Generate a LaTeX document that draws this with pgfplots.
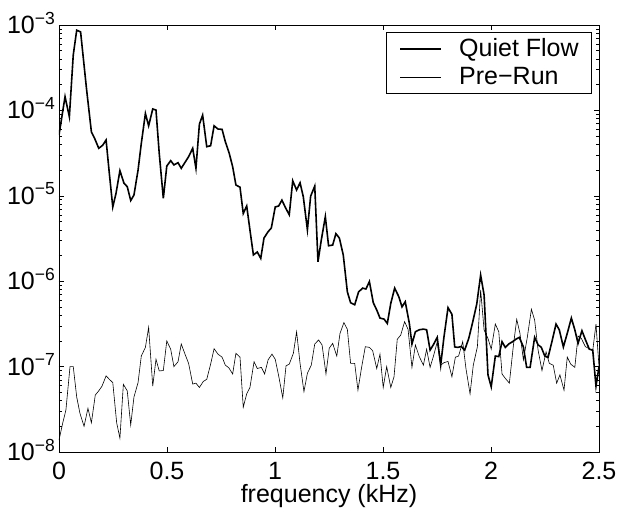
\documentclass[border=0pt]{standalone}
\usepackage{fontspec}
\setmainfont{Liberation Sans}
\usepackage{pgfplots}
\pgfplotsset{compat=1.18}
\begin{document}
\begin{tikzpicture}
\begin{axis}[
  scale only axis,
  width=540pt, height=427pt,
  xmin=0, xmax=2.5,
  ymode=log, ymin=1e-8, ymax=1e-3,
  xtick={0,0.5,1,1.5,2,2.5},
  xticklabels={0,0.5,1,1.5,2,2.5},
  ytick={1e-8,1e-7,1e-6,1e-5,1e-4,1e-3},
  yticklabels={10\raisebox{9.5pt}{\fontsize{17.5}{17.5}\selectfont −8},
               10\raisebox{9.5pt}{\fontsize{17.5}{17.5}\selectfont −7},
               10\raisebox{9.5pt}{\fontsize{17.5}{17.5}\selectfont −6},
               10\raisebox{9.5pt}{\fontsize{17.5}{17.5}\selectfont −5},
               10\raisebox{9.5pt}{\fontsize{17.5}{17.5}\selectfont −4},
               10\raisebox{9.5pt}{\fontsize{17.5}{17.5}\selectfont −3}},
  tick align=inside,
  major tick length=5pt, minor tick length=3pt,
  tick style={black, line width=0.5pt},
  axis line style={black, line width=0.8pt},
  xticklabel style={font=\fontsize{25}{29}\selectfont, inner sep=0pt, yshift=-10pt},
  yticklabel style={font=\fontsize{25}{29}\selectfont, anchor=base east, inner sep=0pt, xshift=-4pt, yshift=-8.5pt},
  xlabel={frequency (kHz)},
  xlabel style={font=\fontsize{25}{29}\selectfont, inner sep=0pt, yshift=-4pt},
  legend style={at={(1,1)}, anchor=north east, xshift=-7pt, yshift=-7pt,
    font=\fontsize{25}{29}\selectfont, draw=black, line width=0.6pt,
    inner xsep=13pt, inner ysep=7pt, row sep=9pt, column sep=17pt,
    nodes={inner xsep=0pt, inner ysep=0pt, text height=17pt, text depth=2pt}},
  legend cell align=left,
  legend image code/.code={\draw[#1] (0pt,0pt) -- (41pt,0pt);},
]
\addplot[black, line width=1.6pt] table {
0 5.15e-5
0.028 1.45e-4
0.048 8.4e-5
0.066 4.46e-4
0.082 8.7e-4
0.100 8.3e-4
0.128 1.73e-4
0.150 5.6e-5
0.165 4.7e-5
0.184 3.6e-5
0.202 3.9e-5
0.218 4.5e-5
0.233 1.83e-5
0.249 7.4e-6
0.264 1.07e-5
0.282 1.97e-5
0.301 1.40e-5
0.316 1.28e-5
0.332 8.8e-6
0.347 1.02e-5
0.366 2.0e-5
0.381 4.1e-5
0.400 9.2e-5
0.415 6.6e-5
0.434 1.04e-4
0.449 1.01e-4
0.464 3.15e-5
0.483 9.35e-6
0.499 2.23e-5
0.517 2.58e-5
0.532 2.3e-5
0.551 2.44e-5
0.566 2.1e-5
0.585 2.5e-5
0.600 2.87e-5
0.619 3.6e-5
0.634 2.1e-5
0.650 6.9e-5
0.665 8.8e-5
0.684 3.76e-5
0.702 3.86e-5
0.718 6.6e-5
0.736 6.05e-5
0.755 6.0e-5
0.770 4.3e-5
0.788 3.15e-5
0.804 2.19e-5
0.819 1.34e-5
0.838 1.26e-5
0.853 6.2e-6
0.869 7.6e-6
0.887 3.5e-6
0.900 2.03e-6
0.918 2.2e-6
0.934 1.85e-6
0.949 3.2e-6
0.968 3.8e-6
0.983 4.2e-6
1.001 7.4e-6
1.017 7.6e-6
1.032 8.9e-6
1.048 7.3e-6
1.066 6.0e-6
1.082 1.5e-5
1.100 1.17e-5
1.116 1.42e-5
1.131 9.75e-6
1.150 4.0e-6
1.165 9.9e-6
1.184 1.3e-5
1.199 1.69e-6
1.214 3.0e-6
1.233 5.7e-6
1.248 2.6e-6
1.267 2.65e-6
1.282 3.6e-6
1.298 3.2e-6
1.316 2.03e-6
1.335 7.5e-7
1.350 5.6e-7
1.369 5.3e-7
1.387 7.5e-7
1.406 8.3e-7
1.421 8.1e-7
1.437 9.9e-7
1.455 5.6e-7
1.471 4.6e-7
1.486 3.7e-7
1.505 3.6e-7
1.520 3.2e-7
1.536 5.5e-7
1.554 8.3e-7
1.573 6.6e-7
1.588 5.0e-7
1.603 5.75e-7
1.622 3.2e-7
1.634 1.84e-7
1.650 2.56e-7
1.668 2.7e-7
1.687 2.75e-7
1.702 2.7e-7
1.718 1.56e-7
1.733 1.8e-7
1.751 2.2e-7
1.767 1.04e-7
1.782 2.2e-7
1.801 4.9e-7
1.819 4.1e-7
1.832 1.7e-7
1.847 1.68e-7
1.862 1.72e-7
1.878 1.56e-7
1.897 2.14e-7
1.915 3.3e-7
1.934 5.4e-7
1.952 1.18e-6
1.968 6.9e-7
1.986 8.0e-8
2.001 5.8e-8
2.020 1.33e-7
2.036 1.31e-7
2.051 1.96e-7
2.066 1.68e-7
2.082 1.84e-7
2.100 1.96e-7
2.116 2.1e-7
2.131 2.2e-7
2.150 1.7e-7
2.165 9.8e-8
2.181 9.8e-8
2.202 2.2e-7
2.218 1.8e-7
2.233 1.68e-7
2.249 1.33e-7
2.264 1.28e-7
2.282 1.96e-7
2.301 3.15e-7
2.316 2.7e-7
2.335 1.7e-7
2.353 2.45e-7
2.372 3.7e-7
2.388 2.7e-7
2.403 1.87e-7
2.421 2.63e-7
2.436 2.1e-7
2.455 1.6e-7
2.471 1.56e-7
2.486 5.9e-8
2.500 1.0e-7
};
\addlegendentry{Quiet Flow}
\addplot[black, line width=0.6pt] table {
0 1.38e-8
0.017 2.17e-8
0.032 3.1e-8
0.051 1.0e-7
0.066 1.0e-7
0.082 4.4e-8
0.097 2.84e-8
0.116 2.0e-8
0.134 3.25e-8
0.150 2.2e-8
0.168 4.65e-8
0.184 5.2e-8
0.199 5.9e-8
0.218 7.8e-8
0.233 7.1e-8
0.249 6.5e-8
0.267 2.2e-8
0.282 1.45e-8
0.298 6.2e-8
0.316 5.2e-8
0.332 2.07e-8
0.347 4.4e-8
0.366 6.5e-8
0.381 1.33e-7
0.400 1.68e-7
0.415 2.88e-7
0.434 5.9e-8
0.449 1.22e-7
0.464 8.9e-8
0.483 9.0e-8
0.499 2.0e-7
0.517 1.6e-7
0.532 1.0e-7
0.551 1.14e-7
0.566 1.84e-7
0.582 1.43e-7
0.600 1.09e-7
0.619 6.25e-8
0.634 6.4e-8
0.650 5.7e-8
0.668 6.7e-8
0.684 7.1e-8
0.702 1.07e-7
0.718 1.62e-7
0.736 1.40e-7
0.755 1.29e-7
0.770 1.04e-7
0.786 9.7e-8
0.804 8.2e-8
0.819 1.43e-7
0.838 1.29e-7
0.853 3.34e-8
0.869 4.8e-8
0.884 5.7e-8
0.903 1.14e-7
0.918 9.5e-8
0.937 9.8e-8
0.952 8.2e-8
0.968 1.2e-7
0.986 1.40e-7
1.001 1.22e-7
1.017 7.8e-8
1.036 4.3e-8
1.051 1.02e-7
1.066 1.07e-7
1.085 1.43e-7
1.100 2.56e-7
1.116 1.09e-7
1.134 5.1e-8
1.150 8.35e-8
1.168 1.04e-7
1.184 1.84e-7
1.202 2.05e-7
1.218 1.79e-7
1.236 8.2e-8
1.251 1.64e-7
1.267 1.87e-7
1.286 1.33e-7
1.301 2.45e-7
1.319 3.27e-7
1.335 2.73e-7
1.350 1.09e-7
1.369 1.09e-7
1.384 5.3e-8
1.400 9.5e-8
1.418 1.71e-7
1.437 1.68e-7
1.452 1.54e-7
1.471 9.5e-8
1.486 1.40e-7
1.501 5.7e-8
1.517 1.0e-7
1.536 5.7e-8
1.551 7.6e-8
1.566 2.09e-7
1.582 2.34e-7
1.600 3.36e-7
1.616 2.73e-7
1.634 9.8e-8
1.650 1.79e-7
1.668 1.31e-7
1.687 1.04e-7
1.702 1.6e-7
1.718 9.8e-8
1.733 1.31e-7
1.751 1.94e-7
1.767 1.04e-7
1.782 1.11e-7
1.801 1.15e-7
1.819 7.6e-8
1.835 1.29e-7
1.850 1.33e-7
1.869 1.96e-7
1.884 9.5e-8
1.903 4.8e-8
1.918 1.04e-7
1.937 1.71e-7
1.952 7.9e-7
1.968 2.68e-7
1.986 2.14e-7
2.001 1.6e-7
2.020 3.15e-7
2.036 2.56e-7
2.051 8.2e-8
2.066 7.3e-8
2.085 6.4e-8
2.103 1.71e-7
2.119 3.58e-7
2.134 2.45e-7
2.150 1.2e-7
2.168 2.2e-7
2.187 4.69e-7
2.202 3.51e-7
2.218 1.56e-7
2.236 9.0e-8
2.255 1.49e-7
2.270 1.09e-7
2.288 1.04e-7
2.304 6.4e-8
2.319 8.0e-8
2.338 5.3e-8
2.353 1.29e-7
2.369 1.07e-7
2.388 9.8e-8
2.403 2.28e-7
2.418 2.14e-7
2.437 1.71e-7
2.451 1.64e-7
2.471 1.54e-7
2.486 3.15e-7
2.500 1.0e-7
};
\addlegendentry{Pre−Run}
\end{axis}
\pgfresetboundingbox
\useasboundingbox ([xshift=-59pt,yshift=-61pt]current axis.south west) rectangle ([xshift=20pt,yshift=25pt]current axis.north east);
\end{tikzpicture}
\end{document}
